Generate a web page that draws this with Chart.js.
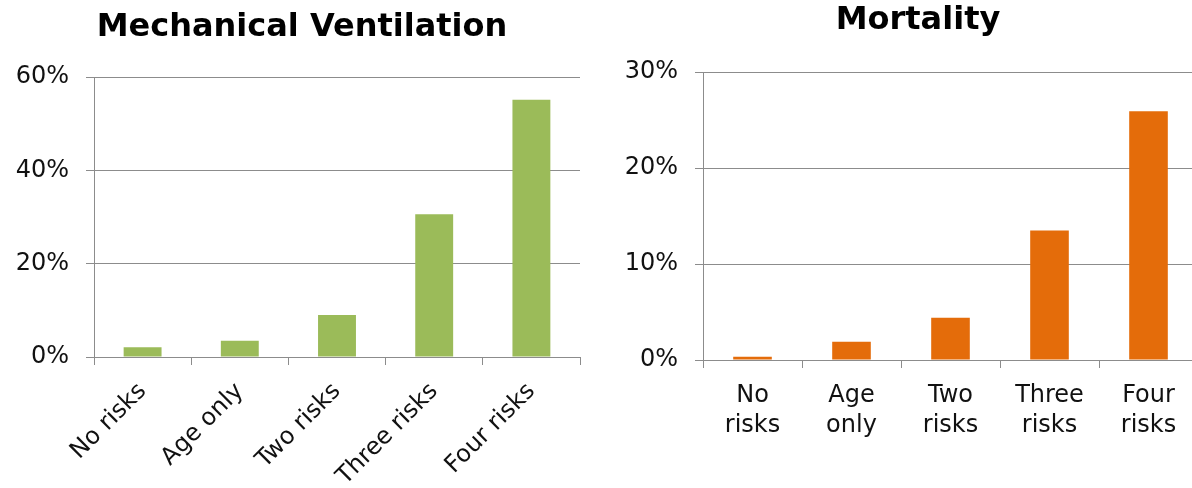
<!DOCTYPE html>
<html>
<head>
<meta charset="utf-8">
<script src="https://cdn.jsdelivr.net/npm/chart.js@4"></script>
<style>
  html, body { margin: 0; padding: 0; background: #fff; overflow: hidden; width: 1192px; height: 488px; }
  #ventChart { position: absolute; left: 0; top: 0; }
  #mortChart { position: absolute; left: 600px; top: 0; }
</style>
</head>
<body>
<canvas id="ventChart" width="600" height="488"></canvas>
<canvas id="mortChart" width="636" height="488"></canvas>
<script>
// du lieu
const categories = ["No risks", "Age only", "Two risks", "Three risks", "Four risks"];
const mortalityLabels = [["No", "risks"], ["Age", "only"], ["Two", "risks"], ["Three", "risks"], ["Four", "risks"]];
const ventilationData = [2.1, 3.5, 9.0, 30.6, 55.1];
const mortalityData = [0.35, 1.9, 4.4, 13.5, 25.9];
const ventTicks = { max: 60, step: 20 };
const mortTicks = { max: 30, step: 10 };

const FONT = "'DejaVu Sans', Verdana, sans-serif";
const GRID = "#8c8c8c";

Chart.defaults.font.family = FONT;
Chart.defaults.color = "#111";

// tieu de ve tai vi tri tuy chon (khong can giua vung ve)
const offsetTitle = {
  id: "offsetTitle",
  afterDraw(chart, args, opts) {
    const ctx = chart.ctx;
    ctx.save();
    ctx.font = "bold 32px " + FONT;
    ctx.fillStyle = "#000";
    ctx.textAlign = "center";
    ctx.textBaseline = "middle";
    ctx.fillText(opts.text, opts.x, opts.y);
    ctx.restore();
  },
};

function makeOptions(cfg) {
  return {
    responsive: false,
    animation: false,
    layout: { padding: cfg.padding },
    plugins: {
      legend: { display: false },
      tooltip: { enabled: false },
      title: { display: false },
      offsetTitle: cfg.title,
    },
    scales: {
      x: {
        afterFit: (axis) => {
          axis.height = cfg.xHeight;
        },
        grid: {
          display: true,
          drawOnChartArea: false,
          drawTicks: true,
          tickLength: 8,
          color: GRID,
        },
        border: { display: true, color: GRID },
        ticks: Object.assign({ color: "#111", font: { size: 24, lineHeight: 1.25 } }, cfg.xTicks),
      },
      y: {
        min: 0,
        max: cfg.yTicks.max,
        afterFit: (axis) => {
          axis.width = cfg.yWidth;
        },
        grid: { color: GRID, tickLength: 8, drawTicks: true },
        border: { display: true, color: GRID },
        ticks: {
          stepSize: cfg.yTicks.step,
          padding: 17,
          color: "#111",
          font: { size: 24 },
          callback: (value) => value + "%",
        },
      },
    },
  };
}

// BIEU DO THONG KHI CO HOC
const ventChart = document.querySelector("#ventChart");
if (ventChart) {
  new Chart(ventChart, {
    type: "bar",
    data: {
      labels: categories,
      datasets: [
        {
          data: ventilationData,
          backgroundColor: "#9bbb59",
          categoryPercentage: 1,
          barPercentage: 0.39,
        },
      ],
    },
    plugins: [offsetTitle],
    options: makeOptions({
      title: { text: "Mechanical Ventilation", x: 302, y: 27.5 },
      yTicks: ventTicks,
      yWidth: 94,
      xHeight: 131,
      xTicks: { minRotation: 45, maxRotation: 45, padding: 12 },
      padding: { top: 77, left: 0, right: 20, bottom: 0 },
    }),
  });
}

// BIEU DO TU VONG
const mortChart = document.querySelector("#mortChart");
if (mortChart) {
  new Chart(mortChart, {
    type: "bar",
    data: {
      labels: mortalityLabels,
      datasets: [
        {
          data: mortalityData,
          backgroundColor: "#e46c0a",
          categoryPercentage: 1,
          barPercentage: 0.39,
        },
      ],
    },
    plugins: [offsetTitle],
    options: makeOptions({
      title: { text: "Mortality", x: 318, y: 21 },
      yTicks: mortTicks,
      yWidth: 103,
      xHeight: 128,
      xTicks: { maxRotation: 0, padding: 13 },
      padding: { top: 72, left: 0, right: 38, bottom: 0 },
    }),
  });
}
</script>
</body>
</html>
